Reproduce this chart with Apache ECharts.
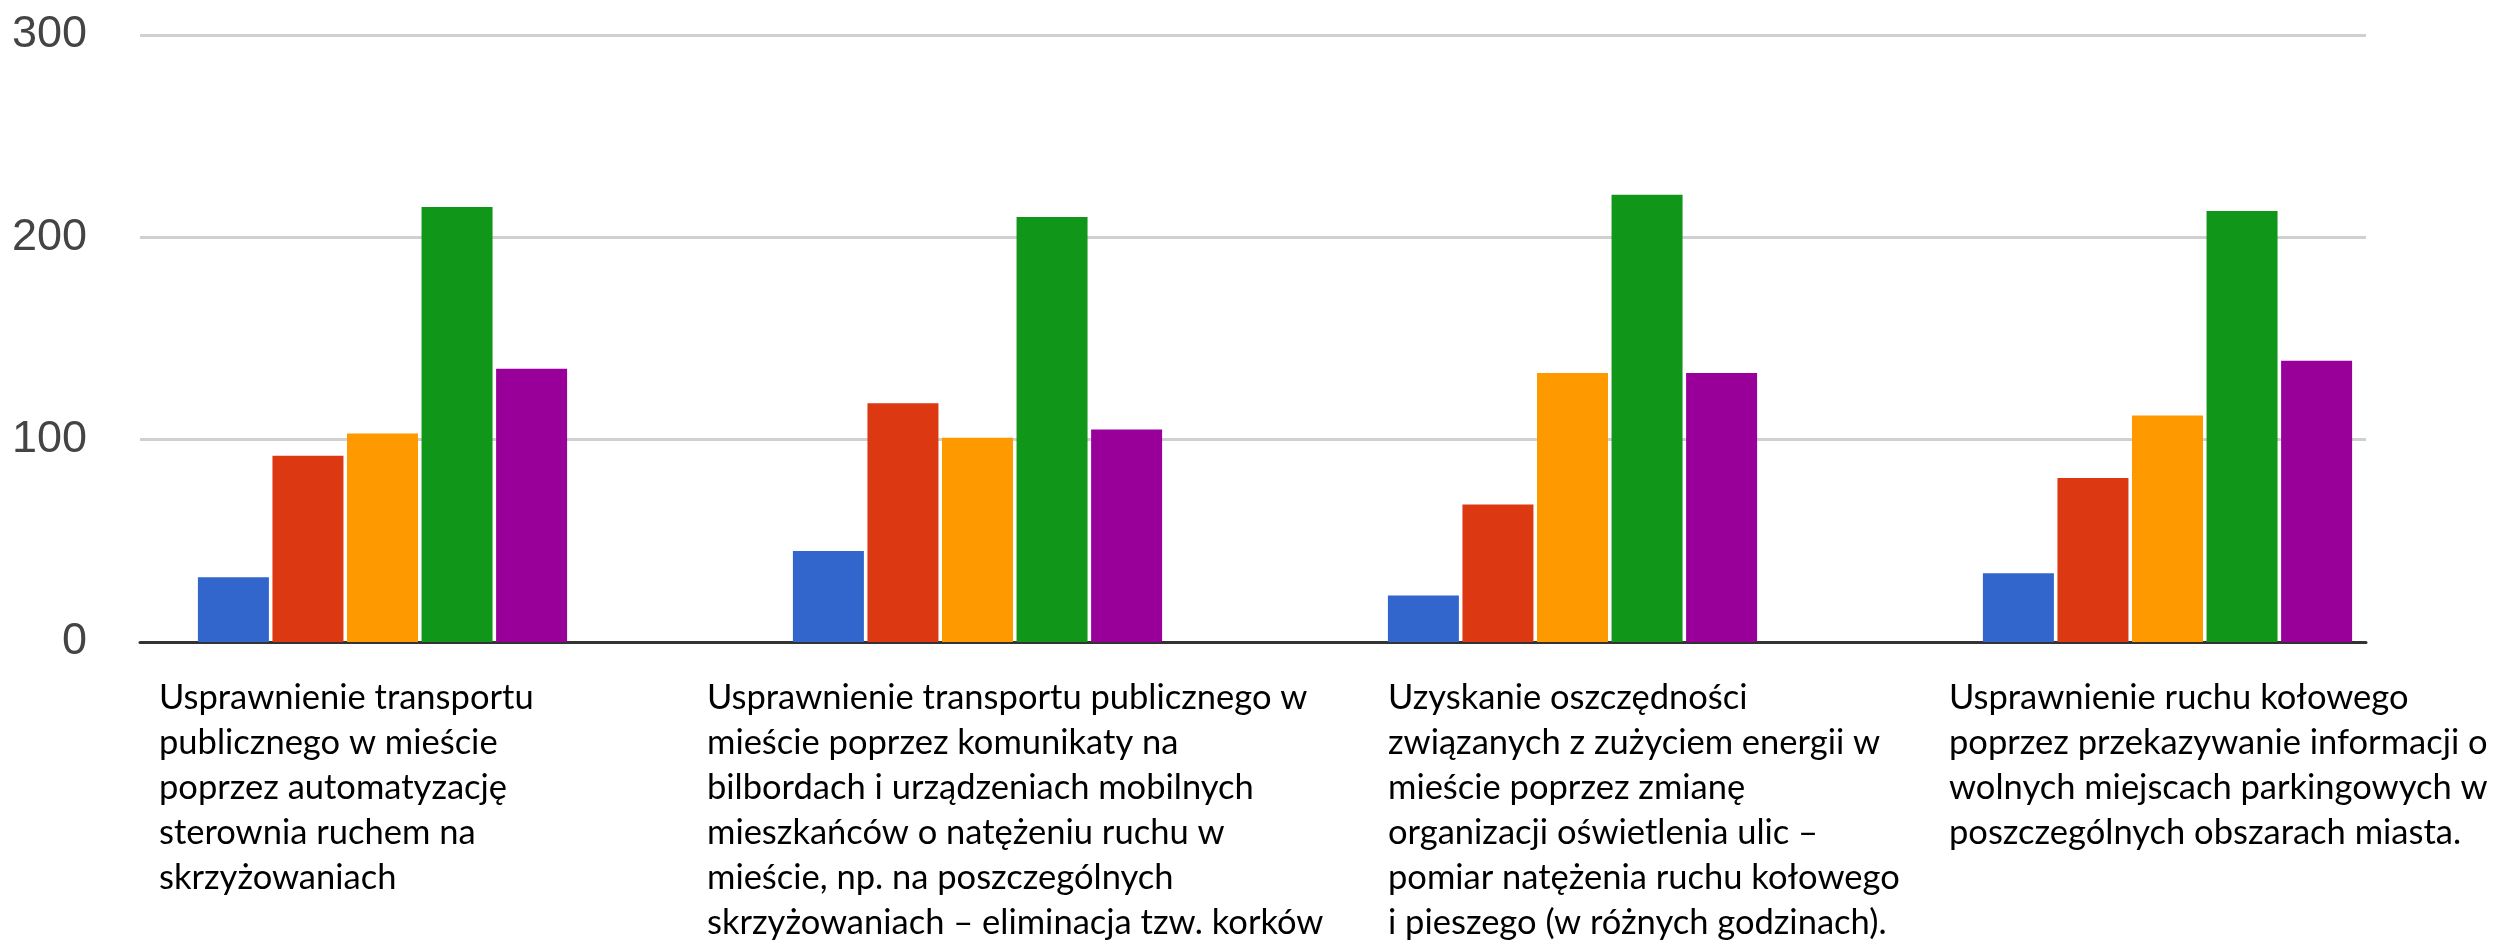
<!DOCTYPE html>
<html>
<head>
<meta charset="utf-8">
<script src="https://cdn.jsdelivr.net/npm/echarts@6/dist/echarts.min.js"></script>
<style>
  html, body { margin: 0; padding: 0; background: #fff; }
  #chart { width: 2493px; height: 949px; }
</style>
</head>
<body>
<div id="chart"></div>
<script>
// categories (label text as laid out under the groups)
var categories = [
  'Usprawnienie transportu\npublicznego w mieście\npoprzez automatyzację\nsterownia ruchem na\nskrzyżowaniach',
  'Usprawnienie transportu publicznego w\nmieście poprzez komunikaty na\nbilbordach i urządzeniach mobilnych\nmieszkańców o natężeniu ruchu w\nmieście, np. na poszczególnych\nskrzyżowaniach – eliminacja tzw. korków',
  'Uzyskanie oszczędności\nzwiązanych z zużyciem energii w\nmieście poprzez zmianę\norganizacji oświetlenia ulic –\npomiar natężenia ruchu kołowego\ni pieszego (w różnych godzinach).',
  'Usprawnienie ruchu kołowego\npoprzez przekazywanie informacji o\nwolnych miejscach parkingowych w\nposzczególnych obszarach miasta.'
];
var seriesNames = ['1', '2', '3', '4', '5'];
var rating1 = [32, 45, 23, 34];
var rating2 = [92, 118, 68, 81];
var rating3 = [103, 101, 133, 112];
var rating4 = [215, 210, 221, 213];
var rating5 = [135, 105, 133, 139];
var colors = ['#3366cc', '#dc3912', '#ff9900', '#109618', '#990099'];

// where the free-standing label boxes sit (layout only)
var labelLeft = [159, 707, 1388, 1949];
var labelTop = 675;

var chart = echarts.init(document.getElementById('chart'), null, { renderer: 'canvas' });
var allValues = [rating1, rating2, rating3, rating4, rating5];

chart.setOption({
  animation: false,
  backgroundColor: '#ffffff',
  grid: [
    { left: 140, right: 127, top: 35, bottom: 307 },   // axis + gridlines
    { left: 85, right: 28, top: 35, bottom: 307 }      // bars
  ],
  xAxis: [
    {
      gridIndex: 0, type: 'category', data: categories,
      axisLine: { show: true, lineStyle: { color: '#333333', width: 3 } },
      axisTick: { show: false }, axisLabel: { show: false }
    },
    {
      gridIndex: 1, type: 'category', data: categories,
      axisLine: { show: false }, axisTick: { show: false }, axisLabel: { show: false }
    }
  ],
  yAxis: [
    {
      gridIndex: 0, type: 'value', min: 0, max: 300, interval: 100,
      axisLine: { show: false }, axisTick: { show: false },
      splitLine: { lineStyle: { color: '#d0d0d0', width: 3 } },
      axisLabel: {
        color: '#444444', fontSize: 45, fontFamily: '"Liberation Sans", Arial, sans-serif',
        margin: 53, padding: [0, 0, 14, 0]
      }
    },
    {
      gridIndex: 1, type: 'value', min: 0, max: 300, interval: 100,
      axisLine: { show: false }, axisTick: { show: false },
      splitLine: { show: false }, axisLabel: { show: false }
    }
  ],
  series: allValues.map(function(vals, i) {
    return {
      name: seriesNames[i],
      type: 'bar',
      xAxisIndex: 1, yAxisIndex: 1,
      data: vals,
      barWidth: 71,
      barGap: '5%',
      itemStyle: { color: colors[i] },
      z: 3
    };
  }),
  graphic: categories.map(function(c, i) {
    return {
      type: 'text',
      left: labelLeft[i],
      top: labelTop,
      style: {
        text: c,
        fill: '#000000',
        font: '34.5px Lato, "Open Sans", sans-serif',
        lineHeight: 45
      }
    };
  })
});
window.addEventListener('resize', function() { chart.resize(); });
</script>
</body>
</html>
